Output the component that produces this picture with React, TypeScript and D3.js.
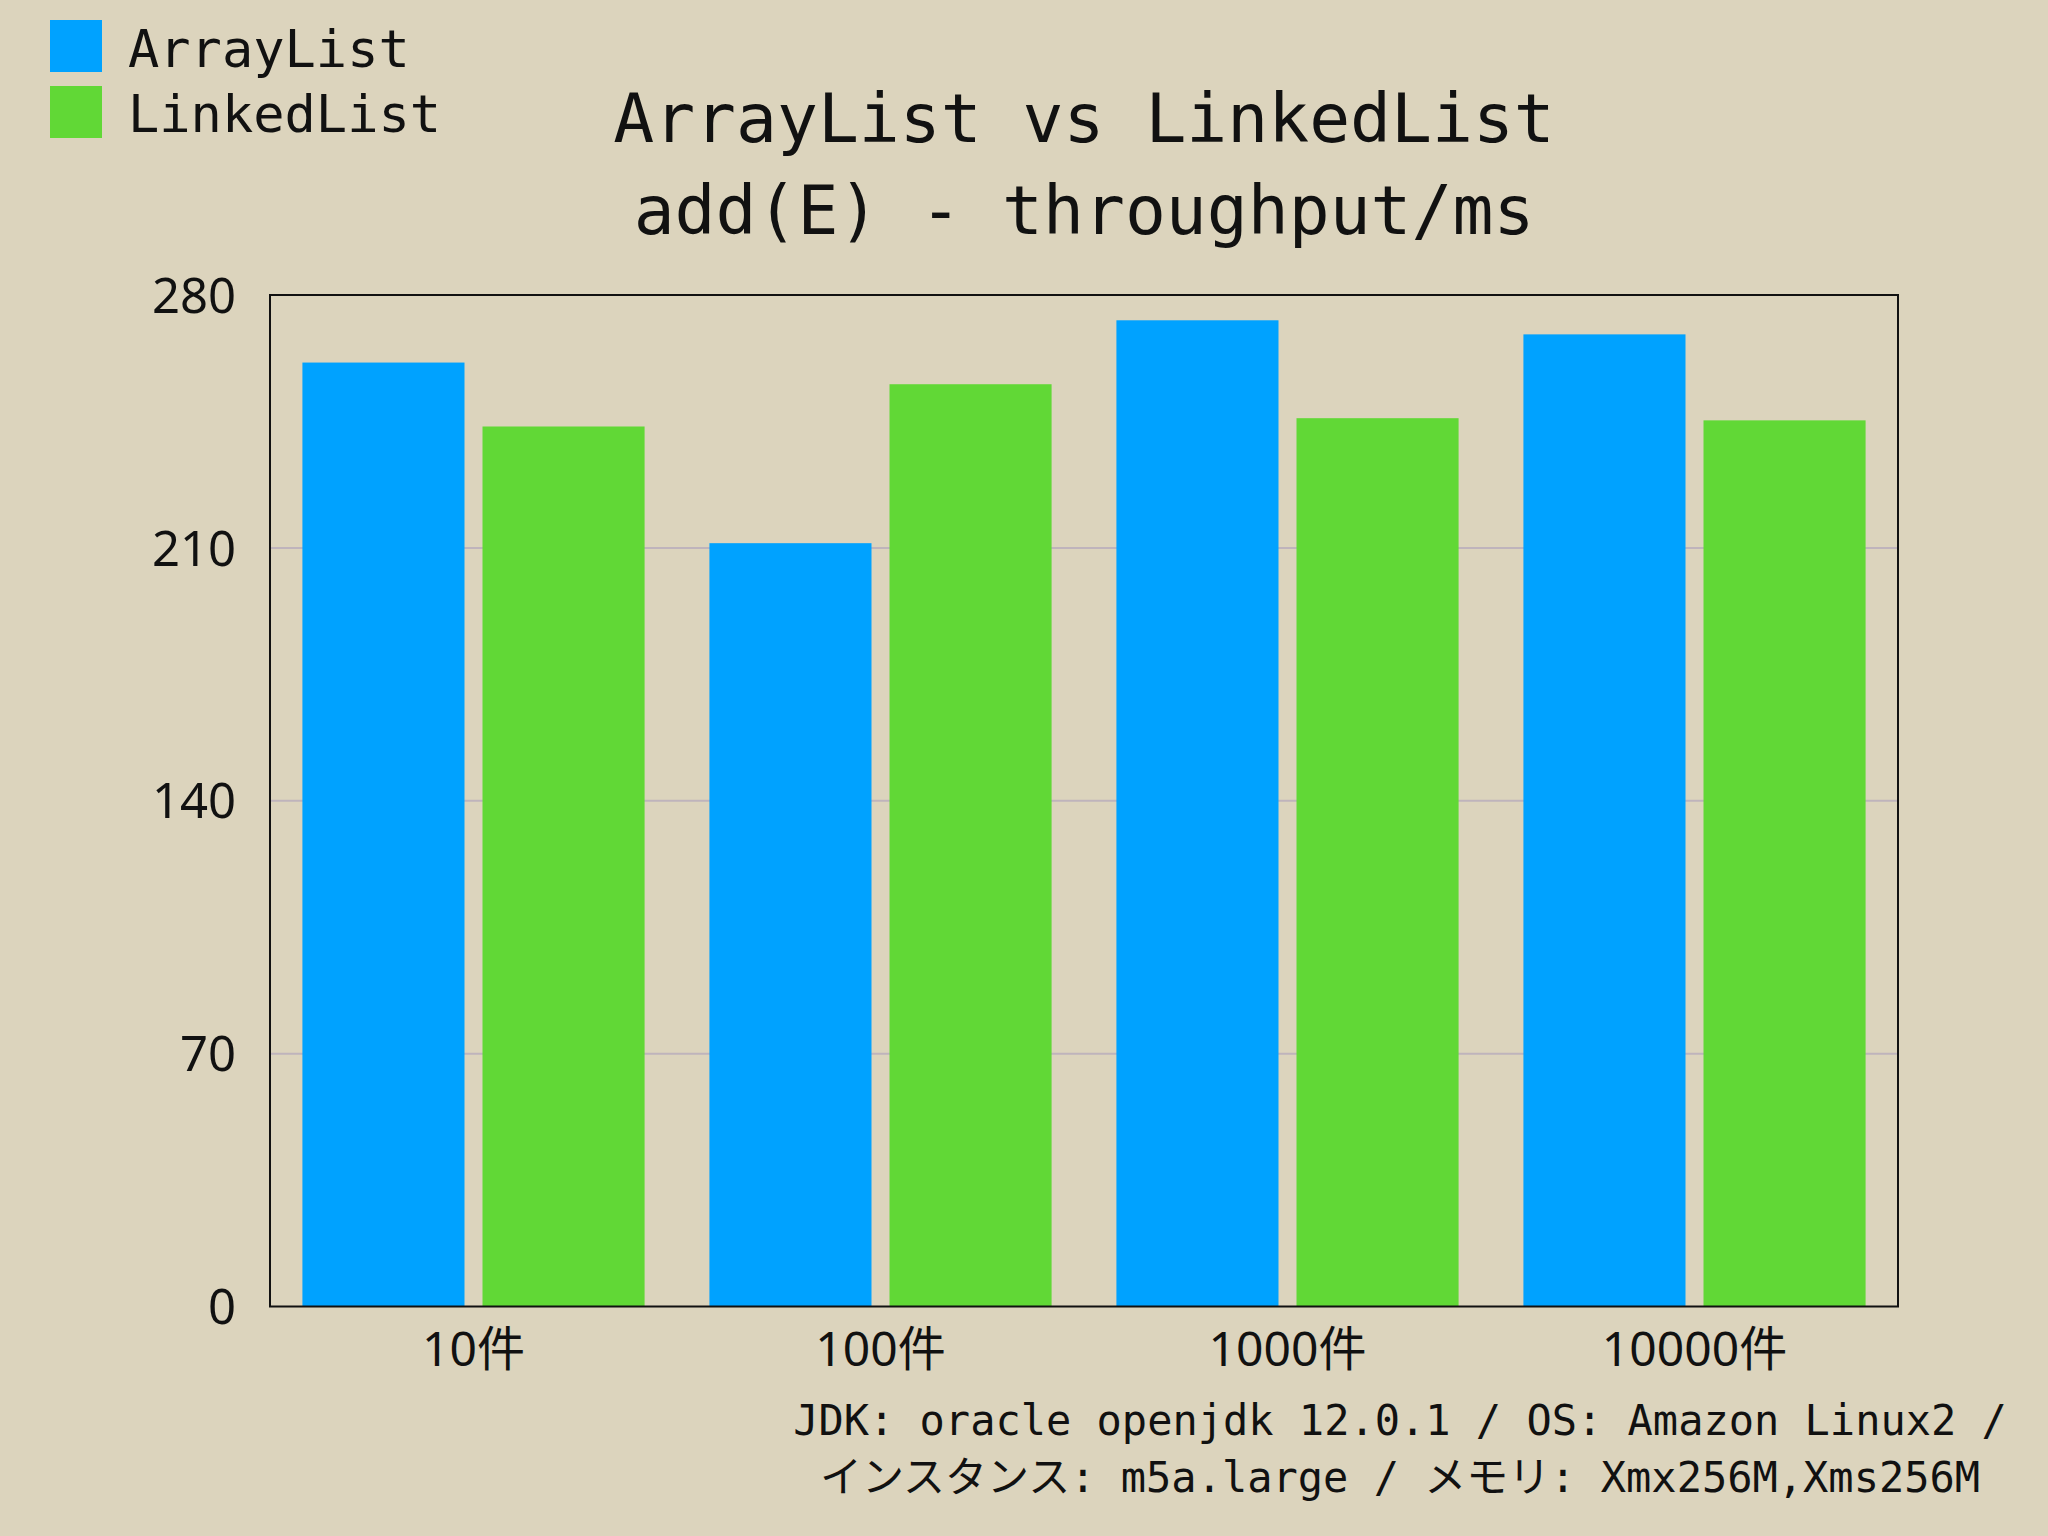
import React from "react";
import * as d3 from "d3";

const categories = ["10件", "100件", "1000件", "10000件"];
const seriesNames = ["ArrayList", "LinkedList"];
const arrayListValues = [261.3, 211.3, 273.0, 269.1];
const linkedListValues = [243.6, 255.3, 245.9, 245.3];
const yTicks = [0, 70, 140, 210, 280];
const titleLines = ["ArrayList vs LinkedList", "add(E) - throughput/ms"];
const noteLines = [
  "JDK: oracle openjdk 12.0.1 / OS: Amazon Linux2 /",
  "インスタンス: m5a.large / メモリ: Xmx256M,Xms256M",
];
const colors = ["#00A2FF", "#61D836"];

const W = 2048;
const H = 1536;
const plot = { left: 270, right: 1898, top: 295, bottom: 1306.5 };
const mono = "'DejaVu Sans Mono', 'Noto Sans CJK JP', monospace";
const sans = "'Noto Sans', 'Noto Sans CJK JP', sans-serif";

export default function App() {
  const x0 = d3
    .scaleBand<string>()
    .domain(categories)
    .range([plot.left, plot.right])
    .padding(0);
  const x1 = d3
    .scaleBand<string>()
    .domain(seriesNames)
    .range([0, x0.bandwidth()])
    .paddingInner(0.1)
    .paddingOuter(0.18);
  const y = d3.scaleLinear().domain([0, 280]).range([plot.bottom, plot.top]);
  const series = [arrayListValues, linkedListValues];

  return (
    <svg
      width={W}
      height={H}
      style={{ position: "absolute", left: 0, top: 0, display: "block" }}
    >
      <rect x={0} y={0} width={W} height={H} fill="#DCD4BD" />

      {yTicks
        .filter((t) => t > 0 && t < 280)
        .map((t) => (
          <line
            key={"g" + t}
            x1={plot.left}
            x2={plot.right}
            y1={y(t)}
            y2={y(t)}
            stroke="#BFB4BC"
            strokeWidth={2}
          />
        ))}

      {categories.map((c, ci) =>
        seriesNames.map((s, si) => {
          const v = series[si][ci];
          return (
            <rect
              key={c + s}
              x={(x0(c) as number) + (x1(s) as number)}
              y={y(v)}
              width={x1.bandwidth()}
              height={y(0) - y(v)}
              fill={colors[si]}
            />
          );
        })
      )}

      <rect
        x={plot.left}
        y={plot.top}
        width={plot.right - plot.left}
        height={plot.bottom - plot.top}
        fill="none"
        stroke="#111"
        strokeWidth={2}
      />

      {yTicks.map((t) => (
        <text
          key={"t" + t}
          x={236}
          y={y(t)}
          dy="0.36em"
          textAnchor="end"
          fontFamily={sans}
          fontSize={49}
          fill="#111"
        >
          {t}
        </text>
      ))}

      {categories.map((c) => (
        <text
          key={"x" + c}
          x={(x0(c) as number) + x0.bandwidth() / 2}
          y={1366}
          textAnchor="middle"
          fontFamily={sans}
          fontSize={48}
          fill="#111"
        >
          {c}
        </text>
      ))}

      {titleLines.map((l, i) => (
        <text
          key={"ti" + i}
          x={1084}
          y={142 + i * 92}
          textAnchor="middle"
          fontFamily={mono}
          fontSize={68}
          fill="#111"
        >
          {l}
        </text>
      ))}

      {seriesNames.map((s, i) => (
        <g key={"l" + s}>
          <rect x={50} y={20 + i * 66} width={52} height={52} fill={colors[i]} />
          <text
            x={128}
            y={67 + i * 65}
            fontFamily={mono}
            fontSize={52}
            fill="#111"
          >
            {s}
          </text>
        </g>
      ))}

      {noteLines.map((l, i) => (
        <text
          key={"n" + i}
          x={1400}
          y={1435 + i * 57}
          textAnchor="middle"
          fontFamily={mono}
          fontSize={42}
          fill="#111"
        >
          {l}
        </text>
      ))}
    </svg>
  );
}
